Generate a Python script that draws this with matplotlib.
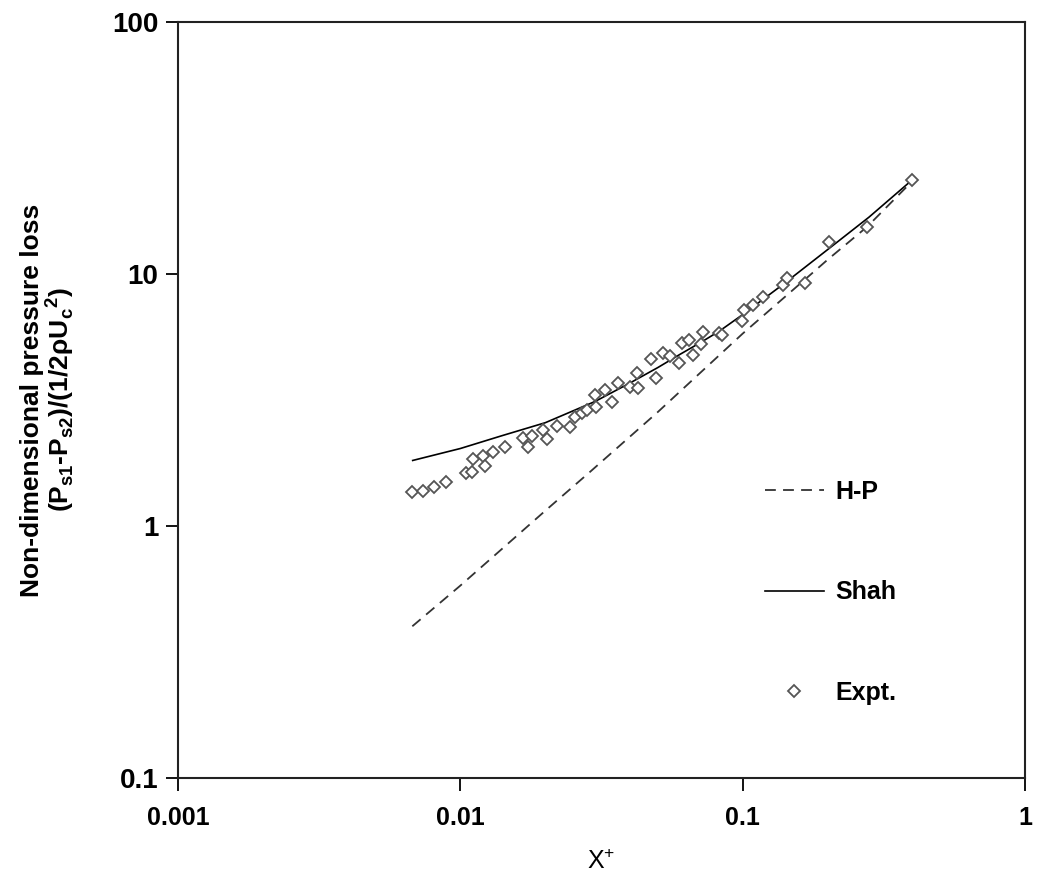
import matplotlib
matplotlib.use("Agg")
import matplotlib.pyplot as plt
from matplotlib.lines import Line2D

plt.rcParams['font.family'] = ['Liberation Sans', 'DejaVu Sans']
plt.rcParams['mathtext.fontset'] = 'custom'
plt.rcParams['mathtext.rm'] = 'Liberation Sans'
plt.rcParams['mathtext.bf'] = 'Liberation Sans:bold'

# experimental points (X+, dimensionless pressure loss)
expt_x = [0.00675, 0.00738, 0.00807, 0.00890, 0.01047, 0.0110, 0.0111, 0.0120,
          0.0122, 0.0131, 0.0144, 0.0167, 0.0174, 0.0180, 0.0196, 0.0203,
          0.0220, 0.0245, 0.0255, 0.0270, 0.0281, 0.0302, 0.0300, 0.0326,
          0.0345, 0.0362, 0.0399, 0.0426, 0.0423, 0.0474, 0.0493, 0.0522,
          0.0553, 0.0595, 0.0610, 0.0646, 0.0667, 0.0712, 0.0724, 0.0825,
          0.0845, 0.0995, 0.1012, 0.1089, 0.1181, 0.1390, 0.1436, 0.1663,
          0.2024, 0.2760, 0.3982]
expt_y = [1.36, 1.38, 1.43, 1.50, 1.62, 1.64, 1.85, 1.90,
          1.73, 1.97, 2.06, 2.24, 2.06, 2.28, 2.40, 2.21,
          2.50, 2.47, 2.71, 2.81, 2.89, 2.97, 3.31, 3.47,
          3.11, 3.69, 3.56, 3.53, 4.05, 4.60, 3.87, 4.86,
          4.73, 4.44, 5.32, 5.47, 4.77, 5.28, 5.89, 5.83,
          5.73, 6.51, 7.20, 7.53, 8.10, 9.04, 9.64, 9.21,
          13.4, 15.4, 23.6]

# Shah correlation
shah_x = [0.00678, 0.01, 0.014, 0.02, 0.03, 0.04, 0.05, 0.06, 0.072,
          0.083, 0.1, 0.14, 0.2, 0.28, 0.398]
shah_y = [1.82, 2.03, 2.28, 2.57, 3.12, 3.70, 4.25, 4.80, 5.40,
          5.95, 6.9, 9.15, 12.5, 16.8, 23.6]

# H-P correlation
hp_x = [0.00676, 0.01, 0.02, 0.0288, 0.05, 0.1, 0.166, 0.2, 0.276, 0.398]
hp_y = [0.40, 0.58, 1.15, 1.64, 2.83, 5.80, 9.5, 11.4, 15.4, 23.3]

fig = plt.figure(figsize=(10.4, 8.88), dpi=100)
ax = fig.add_axes([178/1040, 1-778/888, (1025-178)/1040, (778-22)/888])

ax.plot(hp_x, hp_y, color='#333333', lw=1.3, dashes=(6, 4))
ax.plot(shah_x, shah_y, color='black', lw=1.2)
ax.plot(expt_x, expt_y, ls='none', marker='D', ms=6.2, mfc='white',
        mec='#555555', mew=1.3)

ax.set_xscale('log')
ax.set_yscale('log')
ax.set_xlim(0.001, 1)
ax.set_ylim(0.1, 100)
ax.set_xticks([0.001, 0.01, 0.1, 1])
ax.set_xticklabels(['0.001', '0.01', '0.1', '1'], fontsize=18, fontweight='bold')
ax.set_yticks([0.1, 1, 10, 100])
ax.set_yticklabels(['0.1', '1', '10', '100'], fontsize=20, fontweight='bold')
ax.minorticks_off()
ax.tick_params(direction='out', length=9, width=1.3)
ax.tick_params(axis='y', pad=5)
ax.tick_params(axis='x', pad=11)
for s in ax.spines.values():
    s.set_linewidth(1.5)
    s.set_color('#222222')

ax.set_xlabel('X$^{+}$', fontsize=18, labelpad=14)
ax.set_ylabel('Non-dimensional pressure loss\n'
              r'(P$_{\mathbf{s1}}$-P$_{\mathbf{s2}}$)/(1/2ρU$_{\mathbf{c}}$$^{\mathbf{2}}$)',
              fontsize=19, fontweight='bold', linespacing=0.95)
ax.yaxis.set_label_coords(-0.121, 0.5)

handles = [Line2D([], [], color='#333333', lw=1.3, dashes=(6, 4)),
           Line2D([], [], color='black', lw=1.2),
           Line2D([], [], ls='none', marker='D', ms=6.2, mfc='white',
                  mec='#555555', mew=1.3)]
fig.legend(handles, ['H-P', 'Shah', 'Expt.'], loc='upper left',
           bbox_to_anchor=(765/1040, 1-480/888), frameon=False,
           prop={'size': 18, 'weight': 'bold'}, handlelength=2.35,
           handletextpad=0.45, labelspacing=3.05, borderpad=0,
           borderaxespad=0)

fig.savefig('out.png', dpi=100)
